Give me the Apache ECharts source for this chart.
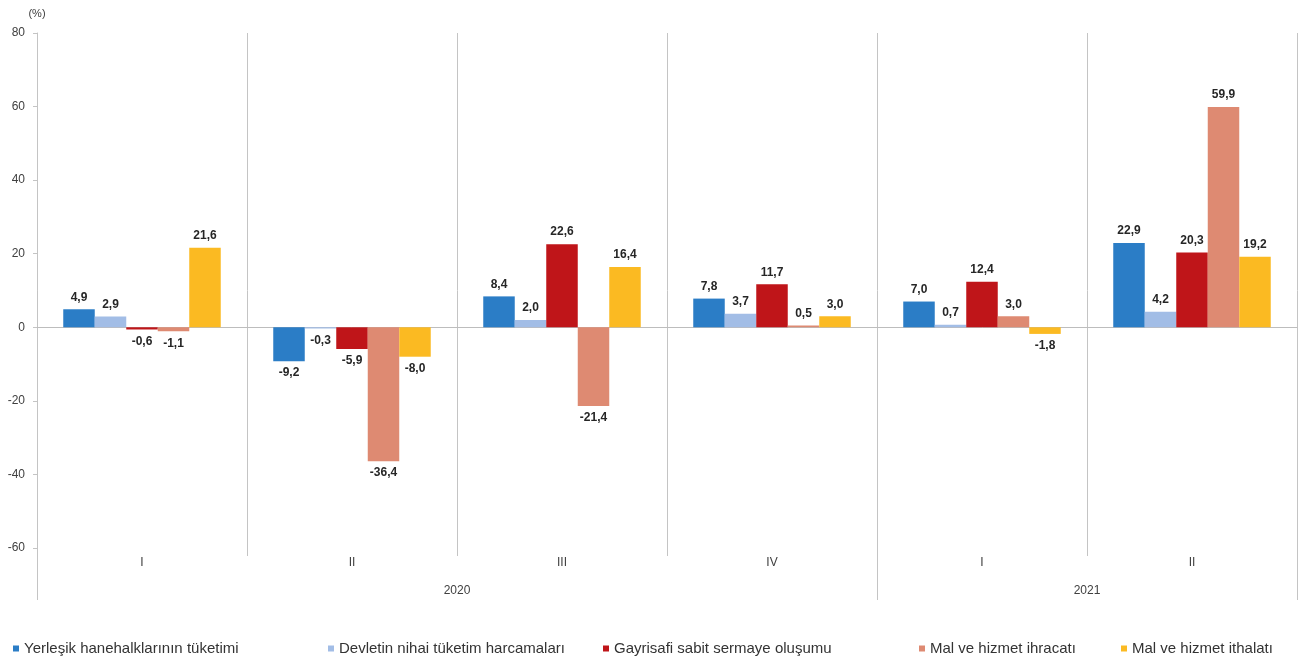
<!DOCTYPE html>
<html>
<head>
<meta charset="utf-8">
<script src="https://cdn.jsdelivr.net/npm/echarts@6/dist/echarts.min.js"></script>
<style>html,body{margin:0;padding:0;background:#fff}#c{width:1314px;height:664px}</style>
</head>
<body>
<div id="c"></div>
<script>
const quarters = ['I', 'II', 'III', 'IV', 'I', 'II'];
const yearTickLabels = ['', '', '2020', '', '', '2021', ''];
const yearBoundaryIdx = [0, 4, 6];
const seriesNames = [
  'Yerleşik hanehalklarının tüketimi',
  'Devletin nihai tüketim harcamaları',
  'Gayrisafi sabit sermaye oluşumu',
  'Mal ve hizmet ihracatı',
  'Mal ve hizmet ithalatı'
];
const hanehalki = [4.9, -9.2, 8.4, 7.8, 7.0, 22.9];
const devlet = [2.9, -0.3, 2.0, 3.7, 0.7, 4.2];
const gayrisafi = [-0.6, -5.9, 22.6, 11.7, 12.4, 20.3];
const ihracat = [-1.1, -36.4, -21.4, 0.5, 3.0, 59.9];
const ithalat = [21.6, -8.0, 16.4, 3.0, -1.8, 19.2];
const yTicks = { min: -60, max: 80, interval: 20 };

const allValues = [hanehalki, devlet, gayrisafi, ihracat, ithalat];
const colors = ['#2b7dc6', '#a2bde6', '#bf1519', '#de8a72', '#fbba22'];
const legendLefts = [8, 323, 598, 914, 1116];
const font = 'Liberation Sans, Arial, sans-serif';

const series = allValues.map((vals, i) => ({
  name: seriesNames[i],
  type: 'bar',
  xAxisIndex: 0,
  barGap: '0%',
  barCategoryGap: '25%',
  itemStyle: { color: colors[i] },
  data: vals.map(v => ({
    value: v,
    label: { position: v < 0 ? 'bottom' : 'top' }
  })),
  label: {
    show: true,
    distance: 6,
    fontSize: 12,
    fontWeight: 'bold',
    fontFamily: font,
    color: '#262626',
    formatter: p => p.value.toFixed(1).replace('.', ',')
  }
}));

const chart = echarts.init(document.getElementById('c'));
chart.setOption({
  animation: false,
  textStyle: { fontFamily: font },
  grid: { left: 37, right: 17, top: 33, bottom: 116, containLabel: false },
  legend: seriesNames.map((n, i) => ({
    data: [n],
    left: legendLefts[i],
    top: 636,
    icon: 'rect',
    itemWidth: 6,
    itemHeight: 6,
    itemGap: 0,
    textStyle: { fontSize: 15, color: '#333', fontFamily: font }
  })),
  xAxis: [
    {
      type: 'category',
      data: quarters,
      position: 'bottom',
      axisLine: { show: false, onZero: false },
      axisTick: { show: true, length: 8, lineStyle: { color: '#c4c4c4' } },
      splitLine: { show: true, lineStyle: { color: '#c4c4c4' } },
      axisLabel: { color: '#404040', fontSize: 12, margin: 9, fontFamily: font }
    },
    {
      type: 'category',
      data: yearTickLabels,
      boundaryGap: false,
      position: 'bottom',
      axisLine: { show: false, onZero: false },
      axisTick: {
        show: true,
        length: 52,
        interval: (idx) => yearBoundaryIdx.indexOf(idx) >= 0,
        lineStyle: { color: '#c4c4c4' }
      },
      axisLabel: { interval: 0, color: '#404040', fontSize: 12, margin: 37, fontFamily: font }
    },
    {
      type: 'category',
      data: quarters,
      axisLine: { show: true, onZero: true, lineStyle: { color: '#bdbdbd' } },
      axisTick: { show: false },
      axisLabel: { show: false },
      splitLine: { show: false }
    }
  ],
  yAxis: {
    type: 'value',
    min: yTicks.min,
    max: yTicks.max,
    interval: yTicks.interval,
    name: '(%)',
    nameLocation: 'end',
    nameGap: 14,
    nameTextStyle: { color: '#404040', fontSize: 11, align: 'center', fontFamily: font },
    axisLine: { show: true, lineStyle: { color: '#c4c4c4' } },
    axisTick: { show: true, length: 4, lineStyle: { color: '#c4c4c4' } },
    splitLine: { show: false },
    axisLabel: { color: '#404040', fontSize: 12, margin: 12, fontFamily: font }
  },
  series: series
});
</script>
</body>
</html>
